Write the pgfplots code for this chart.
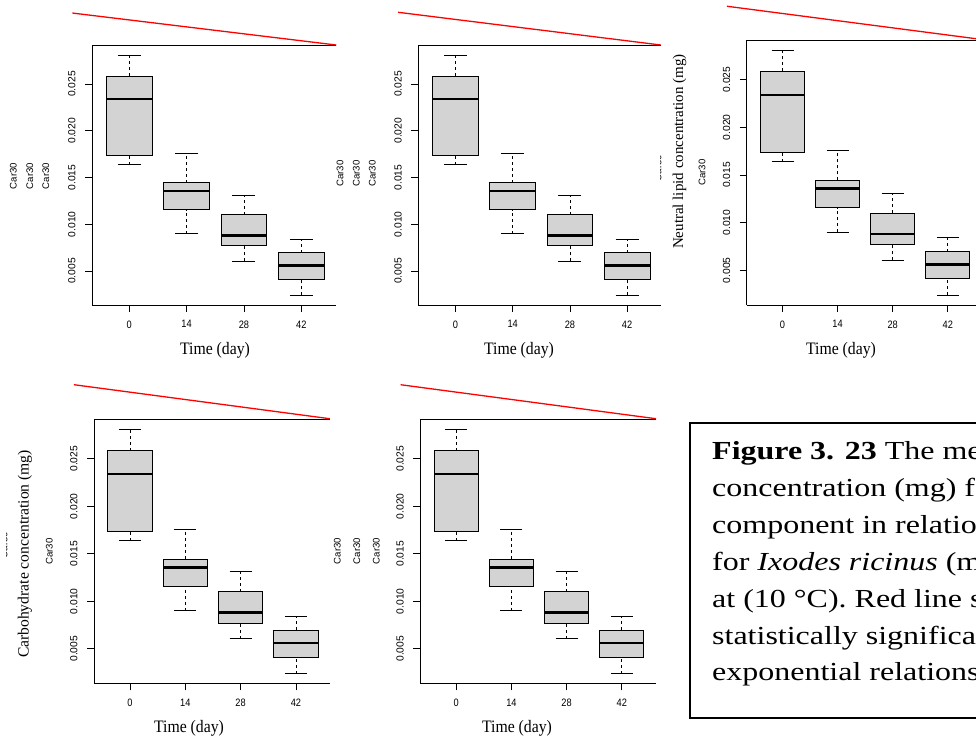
\documentclass[border=0pt]{standalone}
\usepackage{fontspec}
\setmainfont{Liberation Serif}
\newfontfamily\helv{Liberation Sans}
\newfontfamily\helvn[FakeStretch=0.86]{Liberation Sans}
\newfontfamily\timesn[FakeStretch=0.9]{Liberation Serif}
\newfontfamily\capfont[FakeStretch=1.23]{Liberation Serif}
\usepackage{pgfplots}
\pgfplotsset{compat=1.18}
\usepgfplotslibrary{statistics}

\definecolor{boxgray}{RGB}{211,211,211}
\definecolor{fitred}{RGB}{255,0,0}

\pgfplotsset{
  rpanel/.style={
    scale only axis, anchor=south west, clip=false,
    xmin=-9.1, ymin=0.001362, ymax=0.029108,
    axis x line=box, axis y line=left,
    axis line style={black, line width=0.8pt, -},
    every outer y axis line/.append style={-},
    every outer x axis line/.append style={-},
    scaled ticks=false,
    xtick={0,14,28,42}, xticklabels={0,14,28,42},
    ytick={0.005,0.010,0.015,0.020,0.025},
    yticklabels={0.005,0.010,0.015,0.020,0.025},
    xtick pos=bottom, ytick pos=left,
    tick align=outside, major tick length=7pt,
    tick style={black, line width=0.8pt},
    xticklabel style={yshift=-5pt, font=\helvn\fontsize{10.75}{12}\selectfont},
    yticklabel style={xshift=-6pt, rotate=90, anchor=south, font=\helv\fontsize{10.3}{12}\selectfont},
  },
  rbox/.style={
    solid, black, line width=0.8pt,
    boxplot/draw direction=y,
    boxplot/box extend=11.2,
    boxplot/whisker extend=5.6,
    boxplot/every box/.style={draw=black, fill=boxgray, line width=0.8pt},
    boxplot/every median/.style={draw=black, line width=2.6pt},
    boxplot/draw/lower whisker/.code={%
      \draw[dash pattern=on 3pt off 3pt, line width=0.8pt]
        (boxplot box cs:\pgfplotsboxplotvalue{lower whisker},0.5) --
        (boxplot box cs:\pgfplotsboxplotvalue{lower quartile},0.5);
      \draw[solid, line width=0.8pt]
        (boxplot whisker cs:\pgfplotsboxplotvalue{lower whisker},0) --
        (boxplot whisker cs:\pgfplotsboxplotvalue{lower whisker},1);
    },
    boxplot/draw/upper whisker/.code={%
      \draw[dash pattern=on 3pt off 3pt, line width=0.8pt]
        (boxplot box cs:\pgfplotsboxplotvalue{upper quartile},0.5) --
        (boxplot box cs:\pgfplotsboxplotvalue{upper whisker},0.5);
      \draw[solid, line width=0.8pt]
        (boxplot whisker cs:\pgfplotsboxplotvalue{upper whisker},0) --
        (boxplot whisker cs:\pgfplotsboxplotvalue{upper whisker},1);
    },
  },
  fitline/.style={fitred, line width=1.3pt, no marks},
}

% five-number summaries per sampling day (mg)
\newcommand{\rboxes}{%
  \addplot[rbox, boxplot prepared={draw position=0, lower whisker=0.01638,
    lower quartile=0.01738, median=0.02340, upper quartile=0.02586,
    upper whisker=0.02808}] coordinates {};
  \addplot[rbox, boxplot prepared={draw position=14, lower whisker=0.00900,
    lower quartile=0.01157, median=0.01355, upper quartile=0.01443,
    upper whisker=0.01760}] coordinates {};
  \addplot[rbox, boxplot prepared={draw position=28, lower whisker=0.00604,
    lower quartile=0.00771, median=0.00882, upper quartile=0.01100,
    upper whisker=0.01310}] coordinates {};
  \addplot[rbox, boxplot prepared={draw position=42, lower whisker=0.00239,
    lower quartile=0.00410, median=0.00561, upper quartile=0.00696,
    upper whisker=0.00840}] coordinates {};
}

\newcommand{\carlab}{\helv\fontsize{9.6}{11}\selectfont}
\newcommand{\timelab}{\timesn\fontsize{17.5}{20}\selectfont}

\begin{document}
\begin{tikzpicture}[x=1pt, y=1pt]
\useasboundingbox (0,0) rectangle (976,739);
\fill[white] (0,0) rectangle (976,739);
\clip (0,0) rectangle (976,739);

% top left
\begin{axis}[rpanel, at={(92pt,434pt)}, width=244.3pt, height=259.4pt, xmax=50.55]
  \rboxes
  \addplot[fitline] coordinates {(-13.9,0.03259) (50.55,0.02917)};
\end{axis}
% top middle
\begin{axis}[rpanel, at={(418.3pt,434pt)}, width=242.5pt, height=259.4pt, xmax=50.24]
  \rboxes
  \addplot[fitline] coordinates {(-14.05,0.03267) (50.24,0.02917)};
\end{axis}
% top right
\begin{axis}[rpanel, at={(746.7pt,434pt)}, width=236.9pt, height=264.6pt, xmax=51.1]
  \rboxes
  \addplot[fitline] coordinates {(-14.15,0.03269) (51.1,0.02918)};
\end{axis}
% bottom left
\begin{axis}[rpanel, at={(94pt,55.7pt)}, width=235.9pt, height=263.6pt, xmax=50.6]
  \rboxes
  \addplot[fitline] coordinates {(-14.17,0.03279) (50.6,0.02921)};
\end{axis}
% bottom middle
\begin{axis}[rpanel, at={(420.3pt,55.7pt)}, width=235.8pt, height=263.6pt, xmax=50.7]
  \rboxes
  \addplot[fitline] coordinates {(-14.1,0.03279) (50.7,0.02921)};
\end{axis}

% axis titles
\node[font=\timelab, anchor=base] at (215,384) {Time (day)};
\node[font=\timelab, anchor=base] at (519,384) {Time (day)};
\node[font=\timelab, anchor=base] at (841,384) {Time (day)};
\node[font=\timelab, anchor=base] at (189,6.5) {Time (day)};
\node[font=\timelab, anchor=base] at (517,6.5) {Time (day)};

\node[rotate=90, font=\fontsize{15}{18}\selectfont] at (679.5,587.3) {Neutral lipid concentration (mg)};
\node[rotate=90, font=\fontsize{15.6}{18}\selectfont] at (25,185) {Carbohydrate concentration (mg)};

% group labels
\foreach \xx in {13.3,29.7,45.8} \node[rotate=90, font=\carlab] at (\xx,563) {Car30};
\foreach \xx in {340,356.3,372.3} \node[rotate=90, font=\carlab] at (\xx,565.3) {Car30};
\node[rotate=90, font=\carlab] at (702,566.5) {Car30};
\node[rotate=90, font=\carlab] at (49.3,187.3) {Car30};
\foreach \xx in {337.3,356.7,376.3} \node[rotate=90, font=\carlab] at (\xx,188) {Car30};

% partly hidden labels
\begin{scope}
  \clip (660.5,540) rectangle (666,600);
  \node[rotate=90, font=\carlab] at (658,571) {Car30};
\end{scope}
\begin{scope}
  \clip (6.5,170) rectangle (12,220);
  \node[rotate=90, font=\carlab] at (4,194) {Car30};
\end{scope}

% caption box
\draw[line width=1.2pt] (690,316) rectangle (1000,21);
\begin{scope}[every node/.style={anchor=base west, inner sep=0pt, font=\capfont\fontsize{26}{36.8}\selectfont}]
  \node at (712,279)   {\textbf{Figure 3. 23} The mean};
  \node at (712,242.2) {concentration (mg) for each};
  \node at (712,205.4) {component in relation to time};
  \node at (712,168.6) {for \textit{Ixodes ricinus} (males)};
  \node at (712,131.8) {at (10 °C). Red line shows};
  \node at (712,95)    {statistically significant};
  \node at (712,58.2)  {exponential relationship.};
\end{scope}
\end{tikzpicture}
\end{document}
